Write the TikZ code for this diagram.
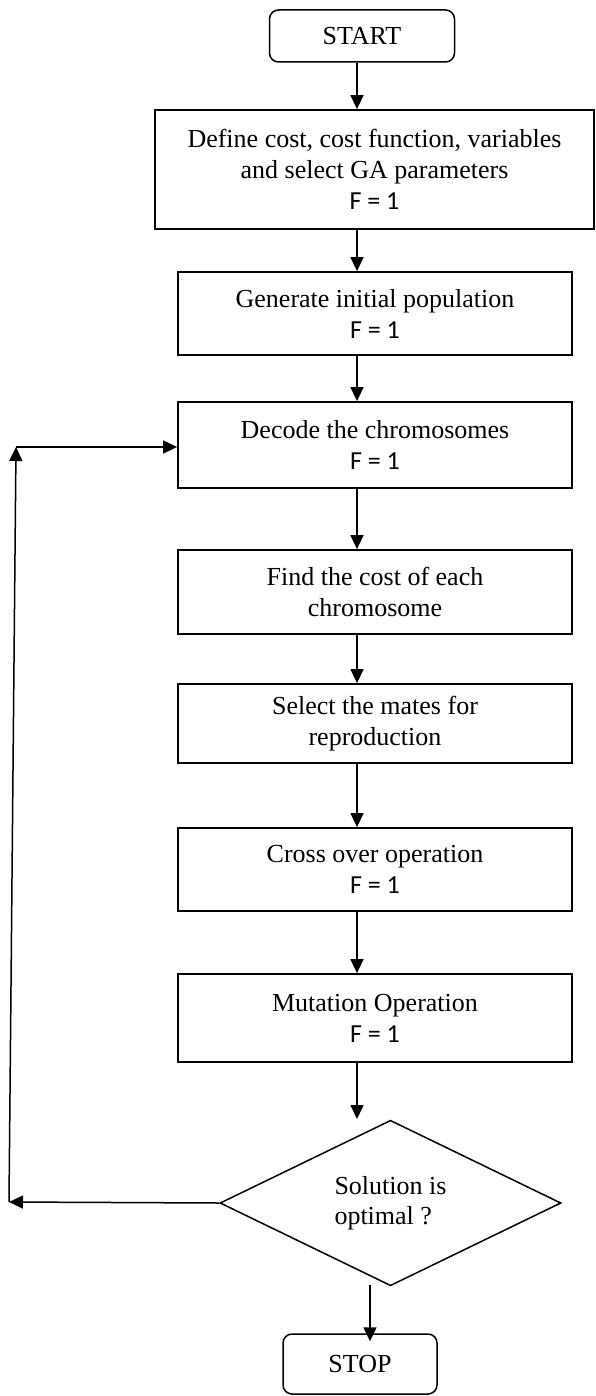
\documentclass[tikz,border=0pt]{standalone}
\usepackage{fontspec}
\setmainfont{Liberation Serif}
\newfontfamily\calib{Carlito}
\usepackage{tikz}
\usetikzlibrary{positioning,arrows.meta,shapes.geometric}
\definecolor{gaink}{RGB}{0,0,0}
\newcommand{\fone}{{\calib F = 1}}
\tikzset{
  proc/.style={draw=gaink, line width=1.8pt, fill=white, align=center,
               minimum width=394pt, inner sep=0pt,
               font=\fontsize{26}{31}\selectfont},
  term/.style={proc, line width=1.5pt, rounded corners=9pt},
  decide/.style={draw=gaink, line width=1.5pt, diamond, align=left,
                 minimum width=341pt, minimum height=164pt, inner sep=0pt,
                 font=\fontsize{26}{30}\selectfont},
  flow/.style={-{Triangle[length=14pt, width=13pt]}, line width=1.5pt, color=gaink},
}
\begin{document}
\begin{tikzpicture}[x=1pt, y=-1pt]
\useasboundingbox (0,0) rectangle (595,1396);
% main column of steps
\node[term, minimum width=185pt, minimum height=52pt] (start) at (362,36) {START};
\node[proc, minimum width=439pt, minimum height=119pt] (def) at (374.5,169.5)
  {Define cost, cost function, variables\\and select GA parameters\\\fone};
\node[proc, minimum height=83pt] (gen) at (375,313.5) {Generate initial population\\\fone};
\node[proc, minimum height=86pt] (dec) at (375,445) {Decode the chromosomes\\\fone};
\node[proc, minimum height=84pt] (cost) at (375,592) {Find the cost of each\\chromosome};
\node[proc, minimum height=79pt] (mates) at (375,723.5) {Select the mates for\\reproduction};
\node[proc, minimum height=83pt] (cross) at (375,869.5) {Cross over operation\\\fone};
\node[proc, minimum height=88pt] (mut) at (375,1018) {Mutation Operation\\\fone};
\node[decide] (opt) at (390.5,1203) {Solution is\\optimal ?};
\node[term, minimum width=154pt, minimum height=60pt] (stop) at (360,1364) {STOP};
% arrow column
\coordinate (ax) at (357,0);
\coordinate (optin) at (357,1119);
\coordinate (optout) at (370,1285);
\coordinate (lb) at (9,1202);
\coordinate (lt) at (16,447);
\draw[flow] (start.south -| ax) -- (def.north -| ax);
\draw[flow] (def.south -| ax) -- (gen.north -| ax);
\draw[flow] (gen.south -| ax) -- (dec.north -| ax);
\draw[flow] (dec.south -| ax) -- (cost.north -| ax);
\draw[flow] (cost.south -| ax) -- (mates.north -| ax);
\draw[flow] (mates.south -| ax) -- (cross.north -| ax);
\draw[flow] (cross.south -| ax) -- (mut.north -| ax);
\draw[flow] (mut.south -| ax) -- (optin);
\draw[flow] (optout) -- ([yshift=-8pt]stop.north -| optout);
% loop back
\draw[flow] (opt.west) -- (lb);
\draw[flow] (lb) -- (lt);
\draw[flow] (lt) -- (lt -| dec.west);
\end{tikzpicture}
\end{document}
